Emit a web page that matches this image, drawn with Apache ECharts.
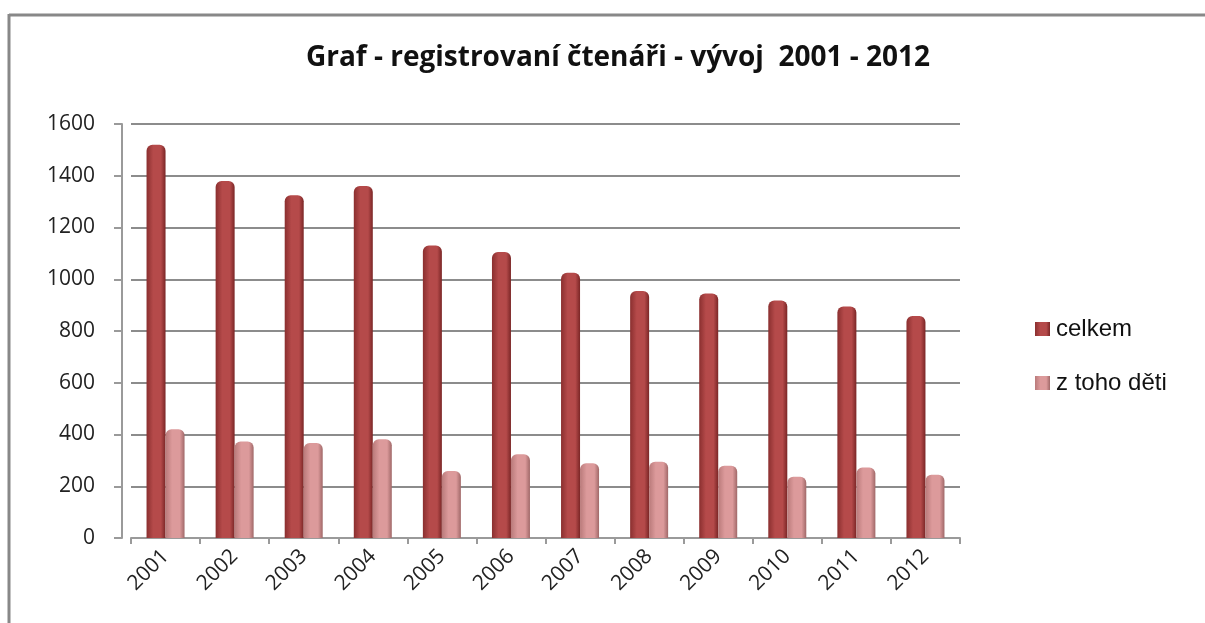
<!DOCTYPE html>
<html><head><meta charset="utf-8">
<script src="https://cdn.jsdelivr.net/npm/echarts@6/dist/echarts.min.js"></script>
<style>html,body{margin:0;padding:0;background:#fff}#c{width:1205px;height:623px}</style>
</head><body><div id="c"></div>
<script>
const categories = ['2001','2002','2003','2004','2005','2006','2007','2008','2009','2010','2011','2012'];
const celkem = [1520,1380,1325,1360,1130,1105,1025,955,945,918,895,858];
const deti = [420,373,367,382,259,324,289,295,279,237,272,244];
const yTicks = [0,200,400,600,800,1000,1200,1400,1600];
const seriesNames = ['celkem','z toho děti'];

const chart = echarts.init(document.getElementById('c'), null, {renderer:'canvas'});
function cyl(c0,c1,c2){
  return new echarts.graphic.LinearGradient(0,0,1,0,[
    {offset:0,color:c0},{offset:0.35,color:c1},{offset:0.75,color:c1},{offset:1,color:c2}]);
}
chart.setOption({
  animation:false,
  title:{text:'Graf - registrovaní čtenáři - vývoj  2001 - 2012',left:613,textAlign:'center',top:39,
    textStyle:{fontFamily:'Open Sans',fontWeight:'bold',fontSize:28,color:'#111'}},
  legend:{orient:'vertical',left:1030,top:312,itemWidth:15,itemHeight:14,itemGap:30,icon:'rect',
    textStyle:{fontFamily:'Liberation Sans',fontSize:24,color:'#111',padding:[0,0,0,1]},
    data:seriesNames},
  grid:{left:131,right:245,top:124,bottom:85,containLabel:false},
  xAxis:{type:'category',data:categories,
    axisLine:{lineStyle:{color:'#9a9a9a',width:2}},
    axisTick:{show:true,length:6,lineStyle:{color:'#9a9a9a',width:2}},
    axisLabel:{rotate:45,margin:15,fontFamily:'Open Sans',fontSize:21,color:'#222'}},
  yAxis:{type:'value',min:0,max:1600,interval:200,offset:9,
    axisLine:{show:true,lineStyle:{color:'#9a9a9a',width:2}},
    axisTick:{show:true,length:8,lineStyle:{color:'#9a9a9a',width:2}},
    axisLabel:{margin:27,fontFamily:'Open Sans',fontSize:21,color:'#222',
      formatter:v=>yTicks.includes(v)?String(v):''},
    splitLine:{lineStyle:{color:'#8c8c8c',width:2}}},
  series:[
    {name:seriesNames[0],type:'bar',data:celkem,barWidth:19,barGap:'0%',
      itemStyle:{color:cyl('#8a2f2f','#b54a4a','#7a2626'),borderRadius:[6,6,0,0]}},
    {name:seriesNames[1],type:'bar',data:deti,barWidth:19,
      itemStyle:{color:cyl('#b97a7a','#dc9a9b','#a06868'),borderRadius:[6,6,0,0]}}
  ],
  graphic:[
    {type:'line',shape:{x1:9,y1:15,x2:1205,y2:15},style:{stroke:'#888',lineWidth:3}},
    {type:'line',shape:{x1:9,y1:14,x2:9,y2:623},style:{stroke:'#888',lineWidth:3}}
  ]
});
</script></body></html>
